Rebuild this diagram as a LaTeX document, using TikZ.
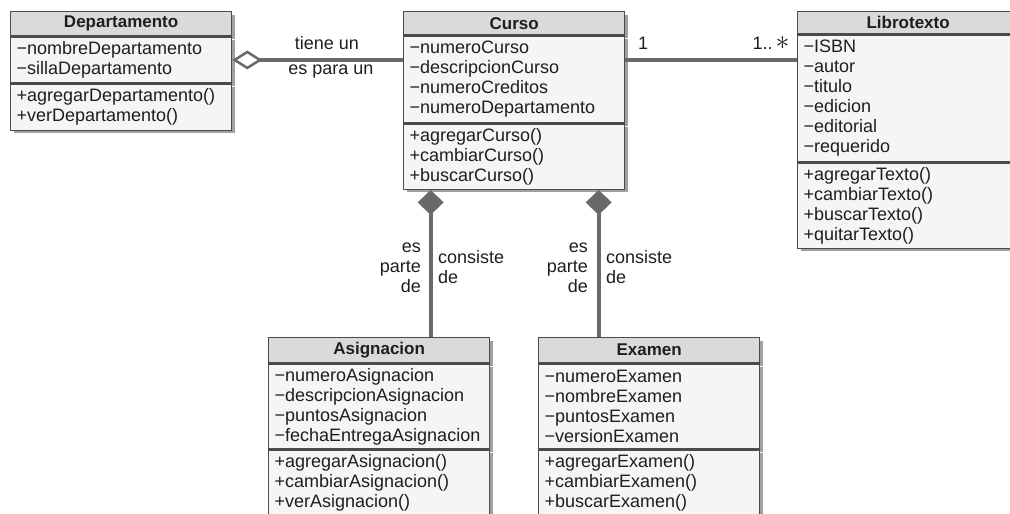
\documentclass[tikz,border=0pt]{standalone}
\usepackage{fontspec}
\setmainfont{Liberation Sans}
\usepackage{tikz}
\usetikzlibrary{arrows.meta, shadows}

\definecolor{headgray}{RGB}{218,218,218}
\definecolor{bodygray}{RGB}{245,245,245}
\definecolor{boxgray}{RGB}{75,75,75}
\definecolor{linegray}{RGB}{105,105,105}
\definecolor{shadegray}{RGB}{160,160,160}
\definecolor{textgray}{RGB}{30,30,30}

\tikzset{
  umlbox/.style={draw=boxgray, line width=1.3pt, anchor=north west, inner xsep=6pt, inner ysep=2pt,
    text width=209pt, text=textgray,
    drop shadow={shadow xshift=3pt, shadow yshift=-3pt, fill=shadegray, opacity=1}},
  head/.style={umlbox, fill=headgray, align=center, font=\bfseries\fontsize{17}{20}\selectfont},
  part/.style={umlbox, fill=bodygray, align=left, font=\fontsize{18}{20}\selectfont},
  link/.style={draw=linegray, line width=4pt},
  lbl/.style={text=textgray, inner sep=0pt, font=\fontsize{18}{20}\selectfont}
}

\begin{document}
\begin{tikzpicture}[x=1pt, y=-1pt]
\useasboundingbox (0,0) rectangle (1010,514);

\node[head, minimum height=24pt] (dep) at (10,11) {Departamento};
\node[part, minimum height=46pt] (depA) at (dep.south west) {−nombreDepartamento\\−sillaDepartamento};
\node[part, minimum height=46pt] (depM) at (depA.south west) {+agregarDepartamento()\\+verDepartamento()};

\node[head, minimum height=23pt] (cur) at (403,11) {Curso};
\node[part, minimum height=87pt] (curA) at (cur.south west) {−numeroCurso\\−descripcionCurso\\−numeroCreditos\\−numeroDepartamento};
\node[part, minimum height=65pt] (curM) at (curA.south west) {+agregarCurso()\\+cambiarCurso()\\+buscarCurso()};

\node[head, minimum height=22pt] (lib) at (797,11) {Librotexto};
\node[part, minimum height=127pt] (libA) at (lib.south west) {−ISBN\\−autor\\−titulo\\−edicion\\−editorial\\−requerido};
\node[part, minimum height=85pt] (libM) at (libA.south west) {+agregarTexto()\\+cambiarTexto()\\+buscarTexto()\\+quitarTexto()};

\node[head, minimum height=25pt] (asg) at (268,337) {Asignacion};
\node[part, minimum height=85pt] (asgA) at (asg.south west) {−numeroAsignacion\\−descripcionAsignacion\\−puntosAsignacion\\−fechaEntregaAsignacion};
\node[part, minimum height=65pt] (asgM) at (asgA.south west) {+agregarAsignacion()\\+cambiarAsignacion()\\+verAsignacion()};

\node[head, minimum height=25pt] (exa) at (538,337) {Examen};
\node[part, minimum height=85pt] (exaA) at (exa.south west) {−numeroExamen\\−nombreExamen\\−puntosExamen\\−versionExamen};
\node[part, minimum height=65pt] (exaM) at (exaA.south west) {+agregarExamen()\\+cambiarExamen()\\+buscarExamen()};

\draw[link, {Diamond[open, length=30pt, width=19pt, line width=2.5pt]}-] (depA.east) -- (depA.east -| curA.west);
\draw[link] (depA.east -| curA.east) -- (depA.east -| libA.west);
\draw[link, {Diamond[length=25pt, width=26pt]}-] ([xshift=-83.5pt]curM.south) -- ([xshift=-83.5pt]curM.south |- asg.north);
\draw[link, {Diamond[length=25pt, width=26pt]}-] ([xshift=84.5pt]curM.south) -- ([xshift=84.5pt]curM.south |- exa.north);

\node[lbl] (tiene) at (327,43) {tiene un};
\node[lbl] (para) at (331,72) {es para un};
\node[lbl] (uno) at (643,43) {1};
\node[lbl] (muchos) at (771,43) {1..\,\raisebox{0.5pt}{\scalebox{1.6}{$\ast$}}};

\node[lbl, anchor=east, align=right] (parteA) at (421,268) {es\\parte\\de};
\node[lbl, anchor=west, align=left] (consA) at (438,267) {consiste\\de};
\node[lbl, anchor=east, align=right] (parteE) at (588,268) {es\\parte\\de};
\node[lbl, anchor=west, align=left] (consE) at (606,267) {consiste\\de};
\end{tikzpicture}
\end{document}
